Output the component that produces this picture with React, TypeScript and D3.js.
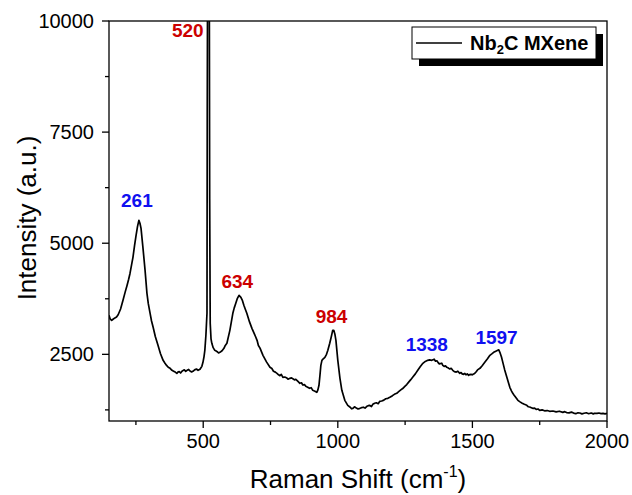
import React from 'react'
import { scaleLinear, line, range } from 'd3'

// Raman shift (cm-1) and intensity (a.u.)
const shift = [
  150, 154, 160, 165, 172, 178, 184, 193, 202, 210, 217, 223, 228, 234, 239, 245, 250, 256, 261, 265, 269, 276, 284, 291, 296, 302, 308, 314, 322, 332,
  341, 351, 358, 364, 370, 377, 384, 390, 396, 402, 407, 411, 416, 421, 426, 430, 435, 440, 446, 451, 457, 462, 468, 475, 481, 488, 495, 499, 503, 506,
  510, 514, 515, 517, 520, 522, 524, 526, 529, 532, 537, 543, 548, 552, 557, 562, 570, 577, 582, 588, 599, 610, 615, 621, 627, 633, 640, 645, 651, 656,
  662, 672, 681, 690, 695, 700, 705, 711, 722, 735, 748, 755, 761, 768, 774, 780, 785, 790, 796, 803, 809, 815, 822, 828, 833, 839, 844, 852, 859, 865,
  870, 876, 881, 888, 895, 901, 907, 915, 922, 926, 930, 934, 937, 941, 946, 952, 958, 963, 970, 976, 981, 985, 989, 993, 1000, 1008, 1015, 1026, 1037, 1046,
  1051, 1056, 1062, 1069, 1075, 1082, 1088, 1095, 1101, 1108, 1113, 1119, 1125, 1130, 1137, 1143, 1150, 1156, 1163, 1171, 1178, 1186, 1195, 1203, 1210, 1219, 1226, 1234, 1241, 1249,
  1256, 1264, 1271, 1278, 1288, 1297, 1306, 1316, 1325, 1334, 1341, 1349, 1358, 1363, 1368, 1372, 1377, 1386, 1390, 1395, 1400, 1405, 1411, 1416, 1421, 1427, 1433, 1440, 1446, 1453,
  1458, 1462, 1467, 1472, 1476, 1481, 1486, 1490, 1495, 1500, 1505, 1509, 1514, 1519, 1528, 1537, 1546, 1556, 1565, 1572, 1579, 1587, 1594, 1598, 1602, 1608, 1613, 1620, 1628, 1634,
  1639, 1645, 1650, 1655, 1660, 1669, 1677, 1685, 1693, 1702, 1708, 1713, 1719, 1724, 1731, 1737, 1744, 1750, 1759, 1768, 1778, 1787, 1799, 1811, 1823, 1836, 1843, 1850, 1859, 1868,
  1876, 1884, 1892, 1899, 1907, 1915, 1923, 1930, 1936, 1942, 1949, 1955, 1963, 1970, 1978, 1985, 1993, 2000,
]
const intensity = [
  3378, 3300, 3265, 3290, 3320, 3340, 3390, 3520, 3715, 3900, 4050, 4190, 4320, 4520, 4683, 4950, 5155, 5380, 5515, 5450, 5335, 4908, 4390, 3873, 3640, 3445, 3250, 3108, 2900, 2703,
  2520, 2365, 2300, 2250, 2210, 2185, 2140, 2120, 2100, 2073, 2105, 2110, 2080, 2118, 2140, 2150, 2115, 2140, 2160, 2125, 2105, 2118, 2150, 2170, 2140, 2163, 2230, 2320, 2450, 2590,
  2928, 3423, 8000, 13000, 13000, 13000, 6000, 3200, 2850, 2748, 2650, 2590, 2575, 2560, 2530, 2545, 2580, 2635, 2700, 2748, 3040, 3423, 3540, 3648, 3760, 3828, 3783, 3720, 3603, 3520,
  3423, 3230, 3085, 2960, 2890, 2815, 2700, 2640, 2478, 2330, 2208, 2180, 2120, 2100, 2073, 2040, 2020, 2050, 1983, 1990, 1975, 1940, 1960, 1970, 1950, 1925, 1938, 1890, 1848, 1860,
  1810, 1820, 1780, 1760, 1735, 1750, 1690, 1670, 1645, 1700, 1803, 2050, 2253, 2365, 2400, 2433, 2500, 2590, 2748, 2900, 3040, 3040, 2960, 2815, 2365, 1960, 1690, 1465, 1353, 1310,
  1275, 1285, 1320, 1290, 1270, 1285, 1300, 1310, 1290, 1330, 1345, 1350, 1325, 1375, 1400, 1410, 1390, 1443, 1450, 1470, 1500, 1510, 1540, 1570, 1600, 1623, 1660, 1700, 1730, 1780,
  1820, 1880, 1930, 1983, 2060, 2140, 2220, 2298, 2340, 2365, 2375, 2365, 2390, 2345, 2355, 2320, 2285, 2300, 2253, 2230, 2240, 2208, 2190, 2170, 2185, 2140, 2110, 2100, 2120, 2073,
  2090, 2060, 2050, 2070, 2040, 2060, 2028, 2045, 2050, 2040, 2060, 2073, 2110, 2150, 2185, 2250, 2320, 2400, 2478, 2510, 2545, 2570, 2590, 2600, 2545, 2440, 2320, 2150, 1983, 1860,
  1758, 1680, 1623, 1580, 1540, 1465, 1430, 1400, 1375, 1353, 1320, 1315, 1300, 1285, 1290, 1260, 1270, 1240, 1250, 1230, 1235, 1218, 1225, 1205, 1220, 1195, 1210, 1190, 1182, 1200,
  1178, 1165, 1185, 1180, 1160, 1175, 1185, 1168, 1173, 1180, 1160, 1175, 1170, 1180, 1165, 1172, 1160, 1170,
]

const xTicks = [500, 1000, 1500, 2000]
const xMinorTicks = [250, 750, 1250, 1750]
const yTicks = [2500, 5000, 7500, 10000]
const yMinorTicks = [1250, 3750, 6250, 8750]

const peakLabels = ['520', '261', '634', '984', '1338', '1597']
const peakShift = [520, 261, 634, 984, 1338, 1597]
const peakLabelY = [9633, 5808, 3985, 3198, 2568, 2725]
const peakGroup = ['Si', 'MX', 'Si', 'Si', 'MX', 'MX']

const width = 632
const height = 495
const margin = { top: 21, right: 25, bottom: 74, left: 109 }
const innerWidth = width - margin.left - margin.right
const innerHeight = height - margin.top - margin.bottom

const RED = '#cc0000'
const BLUE = '#1010f0'

export default function App() {
  const xScale = scaleLinear().domain([150, 2000]).range([0, innerWidth])
  const yScale = scaleLinear().domain([1000, 10000]).range([innerHeight, 0])

  const n = Math.min(shift.length, intensity.length)
  const pts = range(n).map(i => [shift[i], intensity[i]] as [number, number])
  const path = line<[number, number]>()
    .x(d => xScale(d[0]))
    .y(d => yScale(d[1]))(pts)

  const font = 'Arial, "Liberation Sans", sans-serif'

  return (
    <svg width={width} height={height} style={{ position: 'absolute', left: 0, top: 0, background: '#fff' }} fontFamily={font}>
      <defs>
        <clipPath id="plotClip">
          <rect x={0} y={0} width={innerWidth} height={innerHeight} />
        </clipPath>
      </defs>
      <g transform={`translate(${margin.left},${margin.top})`}>
        <path d={path || ''} fill="none" stroke="#000" strokeWidth={1.7} strokeLinejoin="round" clipPath="url(#plotClip)" />

        {/* frame */}
        <rect x={0} y={0} width={innerWidth} height={innerHeight} fill="none" stroke="#000" strokeWidth={1.3} />

        {/* x axis ticks */}
        {xTicks.map(t => (
          <g key={t} transform={`translate(${xScale(t)},${innerHeight})`}>
            <line y2={7} stroke="#000" strokeWidth={1.3} />
            <text y={27} textAnchor="middle" fontSize={20} fill="#000">{t}</text>
          </g>
        ))}
        {xMinorTicks.map(t => (
          <line key={t} x1={xScale(t)} x2={xScale(t)} y1={innerHeight} y2={innerHeight + 4} stroke="#000" strokeWidth={1.3} />
        ))}

        {/* y axis ticks */}
        {yTicks.map(t => (
          <g key={t} transform={`translate(0,${yScale(t)})`}>
            <line x2={-7} stroke="#000" strokeWidth={1.3} />
            <text x={-15} dy="0.35em" textAnchor="end" fontSize={20} fill="#000">{t}</text>
          </g>
        ))}
        {yMinorTicks.map(t => (
          <line key={t} x1={0} x2={-4} y1={yScale(t)} y2={yScale(t)} stroke="#000" strokeWidth={1.3} />
        ))}

        {/* peak labels */}
        {peakLabels.map((lbl, i) => (
          <text
            key={lbl}
            x={peakShift[i] === 520 ? xScale(peakShift[i]) - 5 : xScale(peakShift[i]) - 2}
            y={yScale(peakLabelY[i])}
            textAnchor={peakShift[i] === 520 ? 'end' : 'middle'}
            fontSize={19}
            fontWeight="bold"
            fill={peakGroup[i] === 'Si' ? RED : BLUE}
          >
            {lbl}
          </text>
        ))}

        {/* legend */}
        <g transform={`translate(${innerWidth - 195},6)`}>
          <rect x={7} y={7} width={184} height={32} fill="#000" />
          <rect x={0} y={0} width={184} height={32} fill="#fff" stroke="#000" strokeWidth={1} />
          <line x1={4} x2={50} y1={16} y2={16} stroke="#000" strokeWidth={1.7} />
          <text x={58} y={23} fontSize={20} fontWeight="bold" fill="#000">
            Nb<tspan fontSize={13} dy={4}>2</tspan><tspan dy={-4}>C MXene</tspan>
          </text>
        </g>
      </g>

      {/* axis titles */}
      <text x={358} y={488} textAnchor="middle" fontSize={26} fill="#000">
        Raman Shift (cm<tspan fontSize={16} dy={-11}>-1</tspan><tspan dy={11}>)</tspan>
      </text>
      <text transform={`translate(36,${margin.top + 197}) rotate(-90)`} textAnchor="middle" fontSize={26} fill="#000">
        Intensity (a.u.)
      </text>
    </svg>
  )
}
